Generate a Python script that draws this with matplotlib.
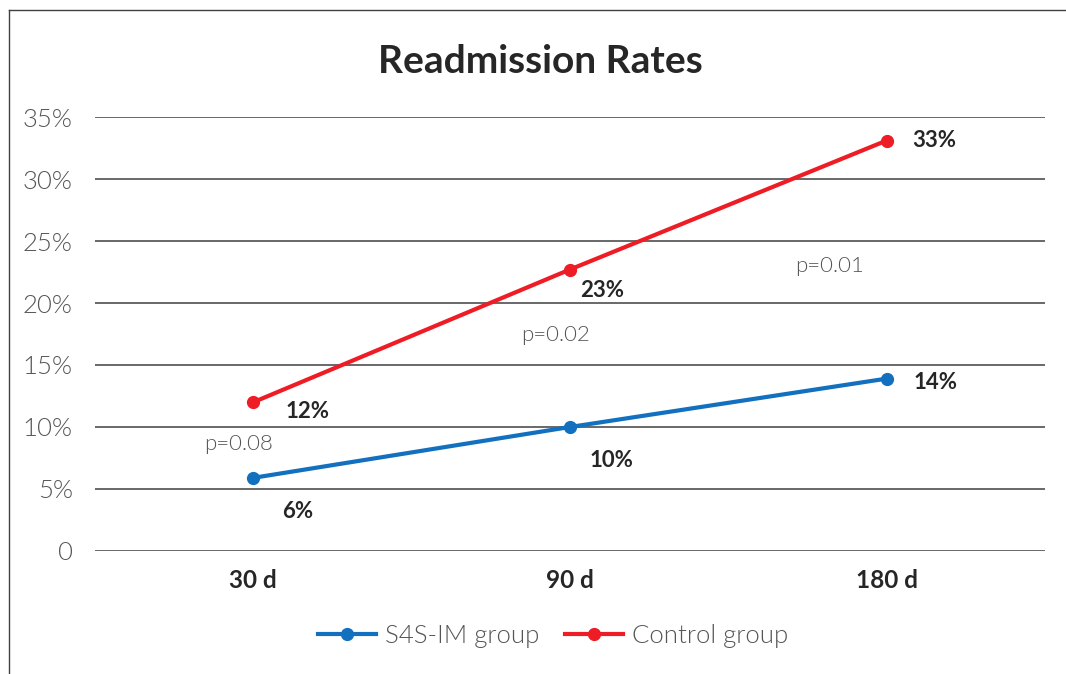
import matplotlib.pyplot as plt
from matplotlib.lines import Line2D

# data
periods = ["30 d", "90 d", "180 d"]
s4s_im = [5.9, 10.0, 13.9]
control = [12.0, 22.7, 33.1]
s4s_labels = ["6%", "10%", "14%"]
control_labels = ["12%", "23%", "33%"]
p_values = ["p=0.08", "p=0.02", "p=0.01"]
p_y = [8.6, 17.4, 23.0]
p_dx = [-0.045, -0.045, -0.18]

blue = "#1270BF"
red = "#EE1C25"
text_dark = "#262626"
text_grey = "#555555"

plt.rcParams["font.family"] = ["Lato", "DejaVu Sans"]

fig = plt.figure(figsize=(10.66, 6.74), dpi=100)
ax = fig.add_axes([0.0891, 0.1825, 0.8911, 0.6439])

x = list(range(len(periods)))
ax.plot(x, s4s_im, color=blue, lw=3, marker="o", ms=8.5, label="S4S-IM group")
ax.plot(x, control, color=red, lw=3, marker="o", ms=8.5, label="Control group")

# data labels (offsets in points)
control_off = [(39, -7), (23, -15), (34, 0)]
s4s_off = [(32, -24), (30, -24), (35, -3)]
for i in x:
    ax.annotate(control_labels[i], (i, control[i]), xytext=control_off[i],
                textcoords="offset points", ha="center", va="center",
                fontsize=16, fontweight="bold", color=text_dark)
    ax.annotate(s4s_labels[i], (i, s4s_im[i]), xytext=s4s_off[i],
                textcoords="offset points", ha="center", va="center",
                fontsize=16, fontweight="bold", color=text_dark)
    ax.text(i + p_dx[i], p_y[i], p_values[i], ha="center", va="center",
            fontsize=16, fontweight=300, color=text_grey)

ax.set_xlim(-0.5, 2.5)
ax.set_ylim(0, 35)
ax.set_yticks([0, 5, 10, 15, 20, 25, 30, 35])
ax.set_yticklabels(["0", "5%", "10%", "15%", "20%", "25%", "30%", "35%"],
                   fontsize=18.5, fontweight=300, color=text_grey)
ax.set_xticks(x)
ax.set_xticklabels(periods, fontsize=17.5, fontweight="bold", color=text_dark)
ax.tick_params(axis="both", length=0)
ax.tick_params(axis="y", pad=16)
ax.tick_params(axis="x", pad=13)
ax.grid(axis="y", color="#404040", lw=1.1)
ax.set_axisbelow(True)
for s in ax.spines.values():
    s.set_visible(False)

fig.suptitle("Readmission Rates", x=0.507, y=0.935, fontsize=28,
             fontweight="bold", color=text_dark)

ax.legend(loc="center", bbox_to_anchor=(0.482, -0.196), ncol=2, frameon=False,
          handlelength=2.25, columnspacing=1.0, handletextpad=0.35,
          labelcolor=text_grey, prop={"weight": 300, "size": 18.5})

# outer frame (left and top edges)
fig.add_artist(Line2D([0.0085, 0.0085], [0.0, 0.985], transform=fig.transFigure,
                      color="#404040", lw=1.0))
fig.add_artist(Line2D([0.0085, 1.0], [0.985, 0.985], transform=fig.transFigure,
                      color="#404040", lw=1.0))

fig.savefig("out.png", dpi=100)
